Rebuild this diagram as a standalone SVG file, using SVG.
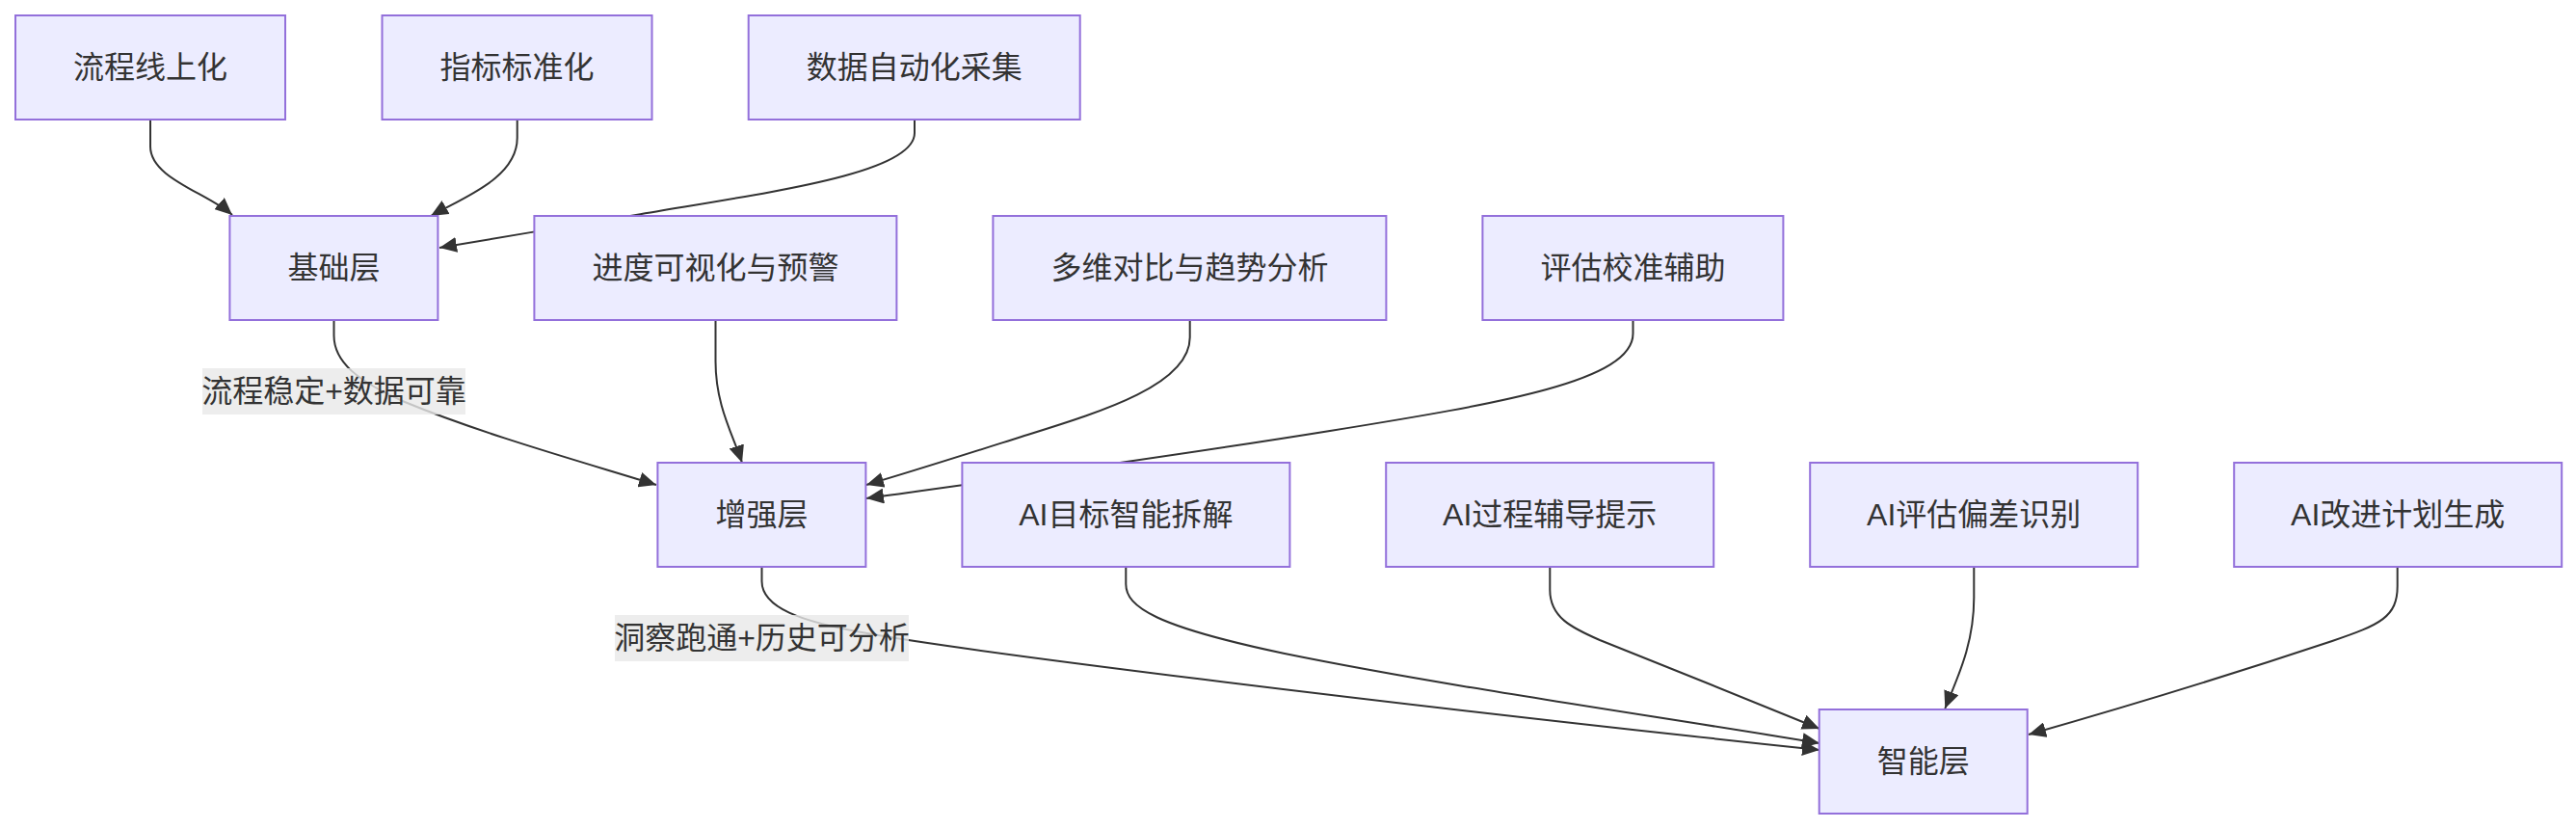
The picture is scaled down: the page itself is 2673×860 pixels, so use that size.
<svg xmlns="http://www.w3.org/2000/svg" width="2673" height="860" viewBox="0 0 2673 860">
<style>
.node rect{fill:#ECECFF;stroke:#9370DB;stroke-width:2}
.node text,.elabel text{font-family:"Liberation Sans","Noto Sans CJK SC",sans-serif;font-size:32px;fill:#333;text-anchor:middle;dominant-baseline:central}
.edges path{fill:none;stroke:#333;stroke-width:2;marker-end:url(#arrow)}
.elabel rect{fill:rgba(232,232,232,0.8);stroke:none}
</style>
<defs>
<marker id="arrow" markerUnits="userSpaceOnUse" viewBox="0 0 10 10" refX="10" refY="5" markerWidth="18" markerHeight="16" preserveAspectRatio="none" orient="auto">
<path d="M0,0 L10,5 L0,10 z" fill="#333"/>
</marker>
</defs>
<rect width="2673" height="860" fill="#fff"/>
<g class="edges">
<path d="M156,124 V152 C156,185 215,200 241,223"/>
<path d="M536.7,124 V143 C536.7,185 480,205 447,224"/>
<path d="M949,124 V138 C949,180 800,199 660,223 C600,233 520,246 456,257"/>
<path d="M742.5,332 V375 C742.5,420 760,450 770,480"/>
<path d="M346.5,332 V348 C346.5,375 370,395 420,417 C500,450 600,478 681,503"/>
<path d="M1234.7,332 V350 C1234.7,400 1140,428 1060,453 C1000,472 950,488 899,503"/>
<path d="M1694.5,332 V346 C1694.5,395 1560,418 1380,447 C1200,476 1000,503 899,517"/>
<path d="M790.5,588 V603 C790.5,630 830,645 900,657 C1000,675 1400,726 1888,778"/>
<path d="M1168.3,588 V606 C1168.3,630 1200,650 1333,678 C1500,712 1700,740 1888,771"/>
<path d="M1608.3,588 V612 C1608.3,640 1630,651 1660,664 C1730,692 1820,728 1888,756"/>
<path d="M2048.3,588 V620 C2048.3,670 2030,705 2018.3,735"/>
<path d="M2487.7,588 V608 C2487.7,640 2470,648 2420,665 C2330,695 2200,735 2105,762"/>
</g>
<g class="elabel" id="label1">
<rect x="210" y="382" width="273" height="48"/>
<text x="346.5" y="406">流程稳定+数据可靠</text>
</g>
<g class="elabel" id="label2">
<rect x="638" y="638" width="305" height="48"/>
<text x="790.5" y="662">洞察跑通+历史可分析</text>
</g>
<g class="node" id="n1"><rect x="16" y="16" width="280" height="108"/><text x="156" y="70">流程线上化</text></g>
<g class="node" id="n2"><rect x="396.5" y="16" width="280" height="108"/><text x="536.5" y="70">指标标准化</text></g>
<g class="node" id="n3"><rect x="776.7" y="16" width="344" height="108"/><text x="948.7" y="70">数据自动化采集</text></g>
<g class="node" id="base"><rect x="238.4" y="224" width="216" height="108"/><text x="346.4" y="278">基础层</text></g>
<g class="node" id="n4"><rect x="554.4" y="224" width="376" height="108"/><text x="742.4" y="278">进度可视化与预警</text></g>
<g class="node" id="n5"><rect x="1030.4" y="224" width="408" height="108"/><text x="1234.4" y="278">多维对比与趋势分析</text></g>
<g class="node" id="n6"><rect x="1538.4" y="224" width="312" height="108"/><text x="1694.4" y="278">评估校准辅助</text></g>
<g class="node" id="enh"><rect x="682.4" y="480" width="216" height="108"/><text x="790.4" y="534">增强层</text></g>
<g class="node" id="n7"><rect x="998.4" y="480" width="340" height="108"/><text x="1168.4" y="534">AI目标智能拆解</text></g>
<g class="node" id="n8"><rect x="1438.2" y="480" width="340" height="108"/><text x="1608.2" y="534">AI过程辅导提示</text></g>
<g class="node" id="n9"><rect x="1878.2" y="480" width="340" height="108"/><text x="2048.2" y="534">AI评估偏差识别</text></g>
<g class="node" id="n10"><rect x="2318.2" y="480" width="340" height="108"/><text x="2488.2" y="534">AI改进计划生成</text></g>
<g class="node" id="smart"><rect x="1887.7" y="736" width="216" height="108"/><text x="1995.7" y="790">智能层</text></g>
</svg>
